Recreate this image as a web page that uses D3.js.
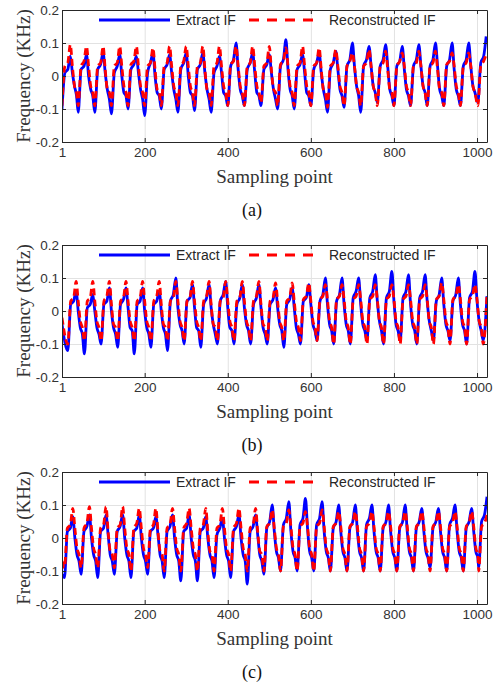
<!DOCTYPE html>
<html>
<head>
<meta charset="utf-8">
<script src="https://cdn.jsdelivr.net/npm/d3@7"></script>
<style>
  body { margin: 0; background: #fff; }
  svg { display: block; }
</style>
</head>
<body>
<svg id="chart"></svg>
<script>
// tick labels
const samplingTicks = [1, 200, 400, 600, 800, 1000];
const freqTicks = [-0.2, -0.1, 0, 0.1, 0.2];
const gridX = [200, 400, 600, 800, 1000];
const gridY = [-0.1, 0, 0.1];

// sample offsets of the read vertices inside one cycle, relative to its peak
// trough, rise, shoulder, peak, drop, notch, fall
const cycleOffsets = [-20, -13, -6, 0, 5, 10, 15];

// ---- panel (a) ----
const peakSamplesA = [21, 60, 100, 140, 180, 220, 260, 300, 340, 380, 420, 460, 500,
  540, 580, 620, 660, 700, 740, 780, 820, 860, 900, 940, 980, 1022];
const extractA = [
  [-0.10, 0.01, 0.02, 0.06, 0.01, -0.03, -0.06],
  [-0.11, 0.02, 0.03, 0.065, 0.00, -0.04, -0.06],
  [-0.11, 0.02, 0.035, 0.07, 0.01, -0.04, -0.07],
  [-0.115, 0.01, 0.03, 0.065, 0.00, -0.05, -0.06],
  [-0.10, 0.02, 0.035, 0.06, 0.01, -0.04, -0.07],
  [-0.12, 0.01, 0.04, 0.07, 0.00, -0.05, -0.06],
  [-0.10, 0.02, 0.035, 0.065, 0.01, -0.04, -0.07],
  [-0.11, 0.02, 0.04, 0.07, 0.00, -0.05, -0.06],
  [-0.105, 0.02, 0.035, 0.07, 0.01, -0.04, -0.07],
  [-0.11, 0.01, 0.03, 0.06, 0.01, -0.05, -0.06],
  [-0.09, 0.03, 0.05, 0.10, 0.02, -0.04, -0.06],
  [-0.09, 0.02, 0.04, 0.07, 0.01, -0.05, -0.06],
  [-0.09, 0.02, 0.035, 0.065, 0.01, -0.04, -0.07],
  [-0.10, 0.03, 0.05, 0.11, 0.02, -0.04, -0.06],
  [-0.10, 0.02, 0.035, 0.065, 0.01, -0.05, -0.06],
  [-0.09, 0.02, 0.04, 0.07, 0.01, -0.04, -0.07],
  [-0.11, 0.02, 0.04, 0.075, 0.02, -0.04, -0.06],
  [-0.095, 0.03, 0.05, 0.10, 0.03, -0.03, -0.06],
  [-0.11, 0.03, 0.05, 0.09, 0.03, -0.03, -0.05],
  [-0.08, 0.03, 0.05, 0.095, 0.03, -0.04, -0.06],
  [-0.09, 0.03, 0.045, 0.09, 0.02, -0.04, -0.06],
  [-0.09, 0.03, 0.05, 0.095, 0.03, -0.03, -0.05],
  [-0.09, 0.03, 0.05, 0.10, 0.03, -0.04, -0.06],
  [-0.09, 0.03, 0.05, 0.10, 0.02, -0.04, -0.06],
  [-0.09, 0.03, 0.05, 0.10, 0.03, -0.03, -0.05],
  [-0.08, 0.04, 0.06, 0.12, 0.03, -0.03, -0.05]
];
const reconA = [
  [-0.09, 0.03, 0.04, 0.095, 0.03, -0.03, -0.05],
  [-0.09, 0.03, 0.045, 0.09, 0.03, -0.03, -0.05],
  [-0.09, 0.03, 0.04, 0.09, 0.02, -0.04, -0.05],
  [-0.09, 0.03, 0.04, 0.09, 0.03, -0.03, -0.05],
  [-0.09, 0.035, 0.045, 0.09, 0.03, -0.03, -0.05],
  [-0.09, 0.03, 0.04, 0.085, 0.02, -0.04, -0.05],
  [-0.09, 0.03, 0.04, 0.09, 0.03, -0.03, -0.05],
  [-0.09, 0.03, 0.045, 0.09, 0.03, -0.03, -0.05],
  [-0.09, 0.03, 0.04, 0.09, 0.02, -0.04, -0.05],
  [-0.09, 0.03, 0.04, 0.09, 0.03, -0.03, -0.05],
  [-0.09, 0.035, 0.045, 0.09, 0.03, -0.03, -0.05],
  [-0.09, 0.03, 0.04, 0.09, 0.03, -0.03, -0.05],
  [-0.08, 0.03, 0.04, 0.09, 0.02, -0.04, -0.05],
  [-0.09, 0.035, 0.045, 0.085, 0.03, -0.03, -0.05],
  [-0.09, 0.03, 0.04, 0.09, 0.03, -0.03, -0.05],
  [-0.09, 0.03, 0.04, 0.085, 0.02, -0.04, -0.05],
  [-0.095, 0.03, 0.04, 0.08, 0.03, -0.03, -0.05],
  [-0.09, 0.03, 0.045, 0.07, 0.03, -0.03, -0.05],
  [-0.09, 0.03, 0.04, 0.08, 0.03, -0.03, -0.05],
  [-0.09, 0.03, 0.04, 0.075, 0.02, -0.04, -0.05],
  [-0.09, 0.03, 0.045, 0.07, 0.03, -0.03, -0.05],
  [-0.09, 0.03, 0.04, 0.075, 0.03, -0.03, -0.05],
  [-0.09, 0.03, 0.04, 0.075, 0.02, -0.04, -0.05],
  [-0.09, 0.035, 0.045, 0.07, 0.03, -0.03, -0.05],
  [-0.09, 0.03, 0.04, 0.07, 0.03, -0.03, -0.05],
  [-0.09, 0.03, 0.045, 0.065, 0.03, -0.03, -0.05]
];
const extractAEdges = { head: [], tail: [] };
const reconAEdges = { head: [], tail: [] };

// ---- panel (b) ----
const peakSamplesB = [35, 75, 115, 155, 195, 235, 275, 315, 355, 395, 435, 475, 515,
  555, 595, 635, 675, 715, 755, 795, 835, 875, 915, 955, 995];
const extractB = [
  [-0.12, 0.02, 0.03, 0.06, 0.00, -0.05, -0.07],
  [-0.13, 0.01, 0.02, 0.05, 0.00, -0.05, -0.07],
  [-0.10, 0.02, 0.03, 0.07, 0.00, -0.05, -0.07],
  [-0.11, 0.02, 0.035, 0.07, 0.01, -0.05, -0.06],
  [-0.13, 0.02, 0.03, 0.07, 0.00, -0.05, -0.07],
  [-0.11, 0.02, 0.03, 0.06, 0.00, -0.05, -0.07],
  [-0.12, 0.03, 0.05, 0.10, 0.01, -0.04, -0.06],
  [-0.10, 0.03, 0.04, 0.08, 0.01, -0.05, -0.06],
  [-0.11, 0.02, 0.04, 0.08, 0.01, -0.04, -0.07],
  [-0.10, 0.03, 0.05, 0.09, 0.01, -0.05, -0.06],
  [-0.10, 0.02, 0.04, 0.08, 0.01, -0.04, -0.06],
  [-0.10, 0.02, 0.04, 0.08, 0.01, -0.05, -0.07],
  [-0.10, 0.02, 0.035, 0.07, 0.01, -0.04, -0.06],
  [-0.11, 0.02, 0.035, 0.07, 0.01, -0.05, -0.07],
  [-0.10, 0.03, 0.04, 0.08, 0.02, -0.04, -0.06],
  [-0.09, 0.03, 0.05, 0.10, 0.02, -0.04, -0.06],
  [-0.10, 0.03, 0.05, 0.10, 0.02, -0.04, -0.06],
  [-0.10, 0.04, 0.06, 0.10, 0.02, -0.04, -0.06],
  [-0.09, 0.04, 0.06, 0.11, 0.03, -0.03, -0.06],
  [-0.10, 0.04, 0.06, 0.12, 0.03, -0.04, -0.06],
  [-0.09, 0.04, 0.06, 0.11, 0.02, -0.04, -0.06],
  [-0.10, 0.04, 0.06, 0.11, 0.03, -0.03, -0.06],
  [-0.09, 0.03, 0.05, 0.10, 0.02, -0.04, -0.06],
  [-0.09, 0.03, 0.05, 0.10, 0.02, -0.04, -0.06],
  [-0.10, 0.04, 0.06, 0.12, 0.03, -0.03, -0.06]
];
const reconB = [
  [-0.10, 0.03, 0.04, 0.09, 0.03, -0.03, -0.05],
  [-0.09, 0.03, 0.04, 0.09, 0.03, -0.03, -0.05],
  [-0.09, 0.03, 0.045, 0.09, 0.02, -0.04, -0.05],
  [-0.09, 0.03, 0.04, 0.09, 0.03, -0.03, -0.05],
  [-0.09, 0.03, 0.04, 0.09, 0.03, -0.03, -0.05],
  [-0.09, 0.03, 0.045, 0.09, 0.02, -0.04, -0.05],
  [-0.09, 0.03, 0.04, 0.09, 0.03, -0.03, -0.05],
  [-0.09, 0.03, 0.04, 0.09, 0.03, -0.03, -0.05],
  [-0.09, 0.03, 0.045, 0.09, 0.02, -0.04, -0.05],
  [-0.09, 0.03, 0.04, 0.09, 0.03, -0.03, -0.05],
  [-0.09, 0.03, 0.04, 0.09, 0.03, -0.03, -0.05],
  [-0.09, 0.03, 0.045, 0.09, 0.02, -0.04, -0.05],
  [-0.09, 0.03, 0.04, 0.085, 0.03, -0.03, -0.05],
  [-0.09, 0.03, 0.04, 0.085, 0.03, -0.03, -0.05],
  [-0.09, 0.035, 0.045, 0.085, 0.03, -0.03, -0.05],
  [-0.09, 0.035, 0.045, 0.08, 0.035, -0.03, -0.05],
  [-0.10, 0.035, 0.045, 0.08, 0.035, -0.03, -0.05],
  [-0.10, 0.035, 0.045, 0.08, 0.035, -0.03, -0.05],
  [-0.10, 0.035, 0.045, 0.08, 0.035, -0.03, -0.05],
  [-0.10, 0.035, 0.045, 0.08, 0.035, -0.03, -0.05],
  [-0.10, 0.035, 0.045, 0.08, 0.035, -0.03, -0.05],
  [-0.10, 0.035, 0.045, 0.08, 0.035, -0.03, -0.05],
  [-0.10, 0.035, 0.045, 0.085, 0.035, -0.03, -0.05],
  [-0.10, 0.035, 0.045, 0.08, 0.035, -0.03, -0.05],
  [-0.10, 0.035, 0.045, 0.08, 0.035, -0.03, -0.05]
];
const extractBEdges = { head: [[1, -0.04]], tail: [[1015, -0.09], [1024, 0.045]] };
const reconBEdges = { head: [[1, -0.02]], tail: [[1015, -0.10], [1024, 0.05]] };

// ---- panel (c) ----
const peakSamplesC = [27, 67, 107, 147, 187, 227, 267, 307, 347, 387, 427, 467, 507,
  547, 587, 627, 667, 707, 747, 787, 827, 867, 907, 947, 987, 1024];
const extractC = [
  [-0.12, 0.02, 0.03, 0.065, 0.00, -0.05, -0.07],
  [-0.11, 0.02, 0.035, 0.07, 0.00, -0.05, -0.07],
  [-0.12, 0.02, 0.03, 0.07, 0.01, -0.05, -0.07],
  [-0.11, 0.02, 0.035, 0.07, 0.00, -0.05, -0.07],
  [-0.12, 0.02, 0.03, 0.07, 0.00, -0.05, -0.07],
  [-0.11, 0.02, 0.03, 0.065, 0.01, -0.05, -0.07],
  [-0.12, 0.02, 0.035, 0.07, 0.00, -0.05, -0.07],
  [-0.13, 0.02, 0.03, 0.07, 0.00, -0.05, -0.07],
  [-0.13, 0.02, 0.03, 0.065, 0.00, -0.05, -0.07],
  [-0.12, 0.01, 0.03, 0.06, 0.00, -0.05, -0.07],
  [-0.12, 0.02, 0.035, 0.07, 0.00, -0.05, -0.07],
  [-0.14, 0.02, 0.035, 0.07, 0.01, -0.05, -0.07],
  [-0.11, 0.03, 0.05, 0.10, 0.02, -0.04, -0.06],
  [-0.10, 0.04, 0.06, 0.11, 0.02, -0.04, -0.06],
  [-0.10, 0.04, 0.06, 0.12, 0.03, -0.04, -0.06],
  [-0.10, 0.04, 0.06, 0.11, 0.02, -0.04, -0.06],
  [-0.10, 0.03, 0.05, 0.10, 0.02, -0.04, -0.06],
  [-0.10, 0.03, 0.05, 0.10, 0.02, -0.04, -0.06],
  [-0.10, 0.04, 0.06, 0.10, 0.02, -0.04, -0.06],
  [-0.10, 0.03, 0.05, 0.10, 0.02, -0.04, -0.06],
  [-0.10, 0.03, 0.05, 0.10, 0.02, -0.04, -0.06],
  [-0.10, 0.03, 0.05, 0.09, 0.02, -0.04, -0.06],
  [-0.09, 0.03, 0.05, 0.09, 0.02, -0.04, -0.06],
  [-0.10, 0.04, 0.06, 0.10, 0.02, -0.04, -0.06],
  [-0.10, 0.03, 0.05, 0.09, 0.02, -0.04, -0.06],
  [-0.09, 0.05, 0.07, 0.125, 0.03, -0.03, -0.05]
];
const reconC = [
  [-0.09, 0.03, 0.04, 0.09, 0.03, -0.03, -0.05],
  [-0.09, 0.03, 0.045, 0.095, 0.03, -0.03, -0.05],
  [-0.09, 0.03, 0.04, 0.095, 0.02, -0.04, -0.05],
  [-0.09, 0.03, 0.04, 0.095, 0.03, -0.03, -0.05],
  [-0.10, 0.03, 0.045, 0.09, 0.03, -0.03, -0.05],
  [-0.09, 0.03, 0.04, 0.09, 0.02, -0.04, -0.05],
  [-0.10, 0.03, 0.04, 0.09, 0.03, -0.03, -0.05],
  [-0.10, 0.03, 0.045, 0.09, 0.03, -0.03, -0.05],
  [-0.10, 0.03, 0.04, 0.09, 0.02, -0.04, -0.05],
  [-0.10, 0.03, 0.04, 0.09, 0.03, -0.03, -0.05],
  [-0.10, 0.03, 0.045, 0.09, 0.03, -0.03, -0.05],
  [-0.10, 0.03, 0.04, 0.09, 0.02, -0.04, -0.05],
  [-0.10, 0.035, 0.045, 0.085, 0.03, -0.03, -0.05],
  [-0.10, 0.035, 0.045, 0.085, 0.035, -0.03, -0.05],
  [-0.10, 0.035, 0.045, 0.08, 0.035, -0.03, -0.05],
  [-0.10, 0.035, 0.045, 0.085, 0.035, -0.03, -0.05],
  [-0.10, 0.035, 0.045, 0.08, 0.035, -0.03, -0.05],
  [-0.10, 0.035, 0.045, 0.08, 0.035, -0.03, -0.05],
  [-0.10, 0.035, 0.045, 0.08, 0.035, -0.03, -0.05],
  [-0.10, 0.035, 0.045, 0.08, 0.035, -0.03, -0.05],
  [-0.10, 0.035, 0.045, 0.08, 0.035, -0.03, -0.05],
  [-0.10, 0.035, 0.045, 0.08, 0.035, -0.03, -0.05],
  [-0.10, 0.035, 0.045, 0.08, 0.035, -0.03, -0.05],
  [-0.10, 0.035, 0.045, 0.08, 0.035, -0.03, -0.05],
  [-0.10, 0.035, 0.045, 0.08, 0.035, -0.03, -0.05],
  [-0.10, 0.035, 0.045, 0.07, 0.035, -0.03, -0.05]
];
const extractCEdges = { head: [[1, -0.11]], tail: [] };
const reconCEdges = { head: [[1, -0.07]], tail: [] };

const captions = ['(a)', '(b)', '(c)'];
const legendNames = ['Extract IF', 'Reconstructed IF'];

// page layout
const W = 502, H = 687;
const plotLeft = 62, plotRight = 487;
const panelTops = [10, 245, 472];
const panelHeight = 132;
const blue = '#0000ff', red = '#ff0000';
const sansFont = '"Liberation Sans", Arial, sans-serif';
const serifFont = '"Liberation Serif", "Times New Roman", serif';

function buildSeries(peaks, rows, edges) {
  const pts = edges.head.map(d => ({ x: d[0], y: d[1] }));
  rows.forEach((row, k) => {
    row.forEach((v, j) => {
      const s = peaks[k] + cycleOffsets[j];
      if (s < 1 || s > 1024) return;
      if (pts.length && s <= pts[pts.length - 1].x) return;
      pts.push({ x: s, y: v });
    });
  });
  edges.tail.forEach(d => pts.push({ x: d[0], y: d[1] }));
  return pts;
}

const panels = [
  { peaks: peakSamplesA, ext: extractA, rec: reconA, extEdges: extractAEdges, recEdges: reconAEdges },
  { peaks: peakSamplesB, ext: extractB, rec: reconB, extEdges: extractBEdges, recEdges: reconBEdges },
  { peaks: peakSamplesC, ext: extractC, rec: reconC, extEdges: extractCEdges, recEdges: reconCEdges }
];

const svg = d3.select('#chart').attr('width', W).attr('height', H);
svg.append('rect').attr('width', W).attr('height', H).attr('fill', '#fff');

panels.forEach((p, i) => {
  const top = panelTops[i];
  const bottom = top + panelHeight;
  const x = d3.scaleLinear().domain([1, 1024]).range([plotLeft, plotRight]);
  const y = d3.scaleLinear().domain([-0.2, 0.2]).range([bottom, top]);
  const g = svg.append('g');

  // grid
  g.append('g')
    .attr('transform', `translate(0,${bottom})`)
    .call(d3.axisBottom(x).tickValues(gridX).tickSize(-panelHeight).tickFormat(''))
    .call(s => s.select('.domain').remove())
    .selectAll('line').attr('stroke', '#e2e2e2').attr('stroke-width', 1);
  g.append('g')
    .attr('transform', `translate(${plotLeft},0)`)
    .call(d3.axisLeft(y).tickValues(gridY).tickSize(-(plotRight - plotLeft)).tickFormat(''))
    .call(s => s.select('.domain').remove())
    .selectAll('line').attr('stroke', '#e2e2e2').attr('stroke-width', 1);

  // clip
  const clipId = 'clip' + i;
  svg.append('clipPath').attr('id', clipId)
    .append('rect').attr('x', plotLeft).attr('y', top)
    .attr('width', plotRight - plotLeft).attr('height', panelHeight);

  const line = d3.line().x(d => x(d.x)).y(d => y(d.y)).curve(d3.curveMonotoneX);

  g.append('path')
    .datum(buildSeries(p.peaks, p.ext, p.extEdges))
    .attr('clip-path', `url(#${clipId})`)
    .attr('d', line)
    .attr('fill', 'none')
    .attr('stroke', blue)
    .attr('stroke-width', 2.8)
    .attr('stroke-linejoin', 'round');

  g.append('path')
    .datum(buildSeries(p.peaks, p.rec, p.recEdges))
    .attr('clip-path', `url(#${clipId})`)
    .attr('d', line)
    .attr('fill', 'none')
    .attr('stroke', red)
    .attr('stroke-width', 2.8)
    .attr('stroke-dasharray', '7,4');

  // axes (ticks point inward, box all round)
  const fmtY = d => d === 0 ? '0' : d.toFixed(1);
  const axisGroups = [];
  const xAxis = g.append('g')
    .attr('transform', `translate(0,${bottom})`)
    .call(d3.axisBottom(x).tickValues(samplingTicks).tickSizeInner(-4).tickSizeOuter(0).tickPadding(5).tickFormat(d3.format('d')));
  const yAxis = g.append('g')
    .attr('transform', `translate(${plotLeft},0)`)
    .call(d3.axisLeft(y).tickValues(freqTicks).tickSizeInner(-4).tickSizeOuter(0).tickPadding(3).tickFormat(fmtY));
  const topAxis = g.append('g')
    .attr('transform', `translate(0,${top})`)
    .call(d3.axisTop(x).tickValues(samplingTicks).tickSizeInner(-4).tickSizeOuter(0).tickFormat(''));
  const rightAxis = g.append('g')
    .attr('transform', `translate(${plotRight},0)`)
    .call(d3.axisRight(y).tickValues(freqTicks).tickSizeInner(-4).tickSizeOuter(0).tickFormat(''));
  axisGroups.push(xAxis, yAxis, topAxis, rightAxis);
  axisGroups.forEach(a => a.selectAll('.domain, .tick line').attr('stroke', '#262626'));
  [xAxis, yAxis].forEach(a => a.selectAll('text')
    .attr('font-family', sansFont).attr('font-size', 13.5).attr('fill', '#333'));

  // axis titles
  g.append('text')
    .attr('x', (plotLeft + plotRight) / 2).attr('y', bottom + 41)
    .attr('text-anchor', 'middle')
    .attr('font-family', serifFont).attr('font-size', 19).attr('fill', '#333')
    .text('Sampling point');
  g.append('text')
    .attr('transform', `translate(30,${(top + bottom) / 2}) rotate(-90)`)
    .attr('text-anchor', 'middle')
    .attr('font-family', serifFont).attr('font-size', 19).attr('fill', '#333')
    .text('Frequency (KHz)');

  // caption
  g.append('text')
    .attr('x', 252).attr('y', bottom + 74)
    .attr('text-anchor', 'middle')
    .attr('font-family', serifFont).attr('font-size', 18).attr('fill', '#111')
    .text(captions[i]);

  // legend
  const ly = top + 10;
  g.append('line').attr('x1', 99).attr('x2', 170).attr('y1', ly).attr('y2', ly)
    .attr('stroke', blue).attr('stroke-width', 2.8);
  g.append('text').attr('x', 176).attr('y', ly + 5)
    .attr('font-family', sansFont).attr('font-size', 14).attr('fill', '#262626')
    .text(legendNames[0]);
  g.append('line').attr('x1', 249).attr('x2', 315).attr('y1', ly).attr('y2', ly)
    .attr('stroke', red).attr('stroke-width', 2.8).attr('stroke-dasharray', '10,8');
  g.append('text').attr('x', 329).attr('y', ly + 5)
    .attr('font-family', sansFont).attr('font-size', 14).attr('fill', '#262626')
    .text(legendNames[1]);
});
</script>
</body>
</html>
